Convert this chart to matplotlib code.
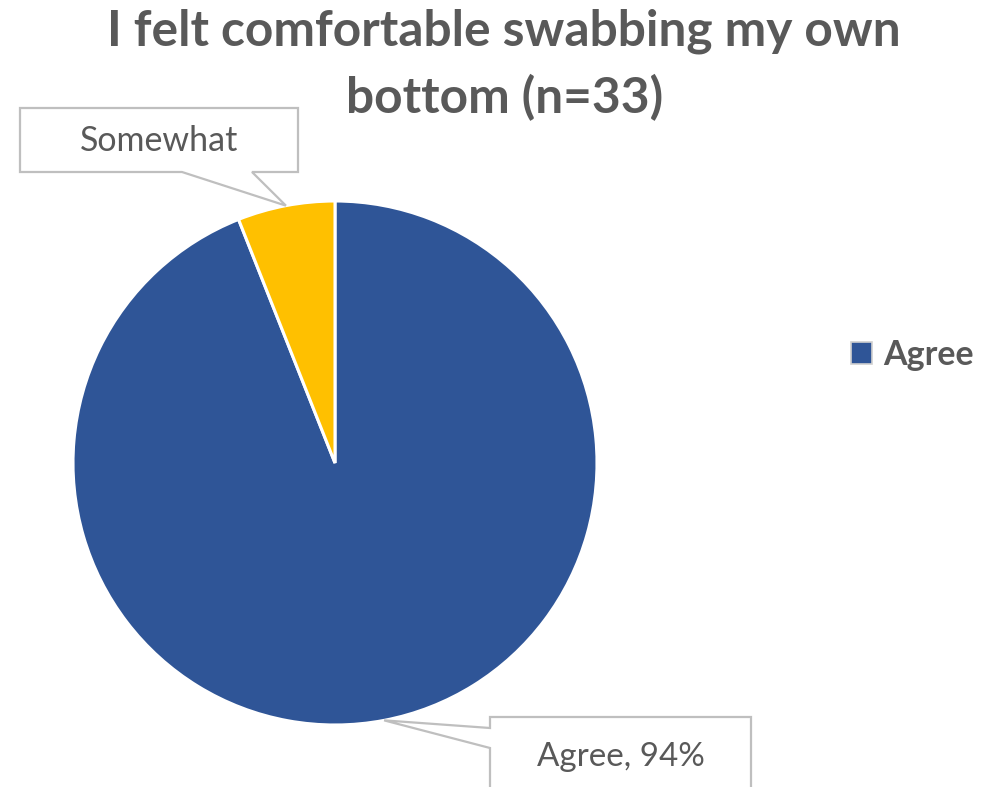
import matplotlib
matplotlib.use("Agg")
import matplotlib.pyplot as plt
import numpy as np
from matplotlib.patches import Polygon

# Survey responses (percent of n=33)
categories = ["Agree", "Somewhat"]
shares = [94, 6]
colors = ["#2F5597", "#FFC000"]
title_lines = ["I felt comfortable swabbing my own", "bottom (n=33)"]
label_texts = ["Agree, 94%", "Somewhat"]

TEXT = "#595959"
BOX_EDGE = "#BFBFBF"
W, H = 1002, 787

fig = plt.figure(figsize=(W / 100, H / 100), dpi=100)
fig.patch.set_facecolor("white")

# Overlay axes in pixel units for annotation shapes
ov = fig.add_axes([0, 0, 1, 1], zorder=3)
ov.set_xlim(0, W)
ov.set_ylim(H, 0)
ov.axis("off")

# Pie axes: centre (335, 463) px, radius 262 px
cx, cy, r = 335, 463, 262
pax = fig.add_axes([(cx - r) / W, 1 - (cy + r) / H, 2 * r / W, 2 * r / H], zorder=2)
wedges, _ = pax.pie(shares, colors=colors, startangle=90, counterclock=False,
                    wedgeprops=dict(edgecolor="white", linewidth=2.2))
pax.set_xlim(-1, 1)
pax.set_ylim(-1, 1)
pax.set_aspect("auto")
pax.axis("off")

renderer = fig.canvas.get_renderer()


def fit(txt, target_w):
    bb = txt.get_window_extent(renderer)
    txt.set_fontsize(txt.get_fontsize() * target_w / bb.width)


def anchor(w):
    """Point on the pie rim at the middle of a wedge, in overlay pixel coords."""
    ang = np.deg2rad((w.theta1 + w.theta2) / 2)
    disp = pax.transData.transform((np.cos(ang), np.sin(ang)))
    return ov.transData.inverted().transform(disp)


# Title
t1 = fig.text(504 / W, 1 - 31 / H, title_lines[0], ha="center", va="center",
              fontsize=30, fontweight="bold", color=TEXT, family="Lato")
fit(t1, 792)
t2 = fig.text(505 / W, 1 - 98 / H, title_lines[1], ha="center", va="center",
              fontsize=t1.get_fontsize(), fontweight="bold", color=TEXT, family="Lato")

# Callout: Somewhat (box with tail at bottom)
ax0, ay0 = anchor(wedges[1])
bl, br, bt, bb_ = 20, 298, 108, 172
poly = [(bl, bt), (br, bt), (br, bb_), (252, bb_), (ax0, ay0), (182, bb_), (bl, bb_)]
ov.add_patch(Polygon(poly, closed=True, facecolor="white", edgecolor=BOX_EDGE, lw=1.6))
s = ov.text(159, 141, label_texts[1], ha="center", va="center", color=TEXT,
            fontsize=18, family="Lato")
fit(s, 158)

# Callout: Agree (box with tail at left)
ax1, ay1 = anchor(wedges[0])
bl, br, bt, bb_ = 490, 751, 717, 800
poly = [(bl, bt), (br, bt), (br, bb_), (bl, bb_), (bl, 748), (ax1, ay1), (bl, 728)]
ov.add_patch(Polygon(poly, closed=True, facecolor="white", edgecolor=BOX_EDGE, lw=1.6,
                     clip_on=False))
a = ov.text(621, 757, label_texts[0], ha="center", va="center", color=TEXT,
            fontsize=18, family="Lato")
fit(a, 168)

# Legend (first category only)
handle = plt.Rectangle((0, 0), 1, 1, facecolor=colors[0], edgecolor="#D0D0D0", lw=1.2)
leg = fig.legend([handle], [categories[0]], loc="center left",
                 bbox_to_anchor=(851 / W, 1 - 355 / H), frameon=False,
                 borderpad=0, borderaxespad=0,
                 prop=dict(family="Lato", weight="bold", size=24.5),
                 labelcolor=TEXT, handlelength=0.62, handleheight=0.62,
                 handletextpad=0.32)

fig.savefig("out.png", dpi=100, facecolor="white")
